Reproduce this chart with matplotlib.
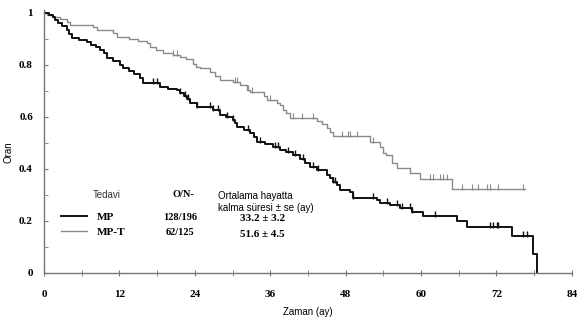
import numpy as np
import matplotlib
matplotlib.use("Agg")
import matplotlib.pyplot as plt

# Kaplan-Meier steps: (time in months, survival after drop)
mp_time = [0, 0.8, 1.5, 1.75, 2.3, 2.9, 3.66, 4.0, 4.45, 5.5, 6.84, 7.5, 8.2, 8.9, 9.5,
           10.0, 11.0, 12.1, 12.6, 13.5, 14.4, 15.3, 15.7, 18.5, 19.8, 21.2, 21.6, 22.2,
           22.7, 23.2, 24.3, 26.9, 28.0, 29.0, 30.1, 30.4, 30.7, 31.8, 32.8, 33.4, 33.9,
           35.2, 36.4, 37.5, 38.5, 39.6, 40.7, 41.5, 42.3, 43.4, 45.0, 45.5, 46.0, 46.6,
           47.1, 48.7, 49.2, 53.0, 53.5, 55.0, 56.6, 58.5, 60.3, 65.7, 67.3, 74.4, 77.8,
           78.4]
mp_surv = [1.0, 0.992, 0.985, 0.973, 0.962, 0.95, 0.935, 0.92, 0.904, 0.896, 0.888, 0.877,
           0.869, 0.858, 0.846, 0.827, 0.815, 0.8, 0.788, 0.777, 0.765, 0.75, 0.731, 0.715,
           0.708, 0.704, 0.692, 0.681, 0.669, 0.654, 0.638, 0.627, 0.608, 0.6, 0.588, 0.577,
           0.562, 0.55, 0.538, 0.521, 0.504, 0.494, 0.485, 0.473, 0.465, 0.454, 0.438, 0.423,
           0.408, 0.396, 0.377, 0.365, 0.35, 0.338, 0.319, 0.312, 0.288, 0.281, 0.269, 0.262,
           0.25, 0.235, 0.219, 0.2, 0.177, 0.142, 0.073, 0.0]
mp_censor = [17.3, 18.0, 21.6, 22.4, 22.9, 24.3, 26.4, 26.9, 27.7, 29.1, 30.1, 32.5, 34.4,
             36.7, 37.2, 38.8, 39.9, 41.2, 42.8, 43.6, 46.0, 46.3, 49.2, 52.3, 54.6, 56.2,
             57.0, 58.2, 58.5, 62.2, 71.0, 71.4, 72.1, 72.2, 76.2, 76.8]

mpt_time = [0, 0.5, 1.2, 2.5, 3.7, 4.1, 7.8, 8.4, 11.0, 11.6, 13.5, 15.0, 16.4, 16.9, 17.8,
            19.0, 20.5, 21.6, 22.6, 23.7, 24.2, 24.8, 26.4, 27.2, 28.0, 30.1, 31.2, 32.3,
            32.8, 35.0, 35.5, 37.0, 37.5, 38.0, 38.5, 39.1, 43.4, 44.2, 45.0, 45.5, 46.0,
            51.9, 53.5, 53.9, 54.5, 55.4, 56.2, 58.2, 59.8, 64.9]
mpt_surv = [1.0, 0.992, 0.985, 0.977, 0.965, 0.954, 0.946, 0.935, 0.923, 0.908, 0.9, 0.892,
            0.885, 0.869, 0.858, 0.846, 0.838, 0.831, 0.823, 0.805, 0.792, 0.788, 0.773,
            0.758, 0.742, 0.735, 0.723, 0.704, 0.696, 0.681, 0.665, 0.654, 0.646, 0.627,
            0.615, 0.596, 0.585, 0.573, 0.558, 0.542, 0.527, 0.504, 0.485, 0.462, 0.454,
            0.423, 0.404, 0.385, 0.362, 0.323]
mpt_end = 76.5
mpt_censor = [20.5, 21.2, 30.4, 30.7, 32.5, 33.1, 36.0, 39.6, 41.0, 42.8, 47.4, 48.4, 48.7,
              49.8, 52.3, 61.4, 61.9, 63.0, 63.5, 64.1, 66.5, 68.1, 69.0, 70.5, 71.0, 72.2,
              76.2]

groups = ["MP", "MP-T"]
events = ["128/196", "62/125"]
medians = ["33.2 \u00b1 3.2", "51.6 \u00b1 4.5"]

xticks = [0, 12, 24, 36, 48, 60, 72, 84]
yticks = [0, 0.2, 0.4, 0.6, 0.8, 1]
ylabels = ["0", "0.2", "0.4", "0.6", "0.8", "1"]

black = "#111111"
grey = "#8a8a8a"
serif = "Liberation Serif"
sans = "Liberation Sans"


def surv_at(times, surv, t):
    i = np.searchsorted(times, t, side="right") - 1
    return surv[i]


fig = plt.figure(figsize=(5.82, 3.23), dpi=100)
ax = fig.add_axes([0.0756, 0.155, 0.907, 0.813])

# MP-T (grey)
tt = list(mpt_time) + [mpt_end]
ss = list(mpt_surv) + [mpt_surv[-1]]
ax.step(tt, ss, where="post", color=grey, lw=1.0)
cy = [surv_at(mpt_time, mpt_surv, t) for t in mpt_censor]
ax.plot(mpt_censor, np.array(cy) + 0.008, ls="none", marker="|", ms=4, mew=0.8, color=grey)

# MP (black)
ax.step(mp_time, mp_surv, where="post", color=black, lw=1.4)
cy = [surv_at(mp_time, mp_surv, t) for t in mp_censor]
ax.plot(mp_censor, np.array(cy) + 0.008, ls="none", marker="|", ms=4, mew=1.0, color=black)

ax.set_xlim(0, 84)
ax.set_ylim(0, 1.01)
for s in ["top", "right"]:
    ax.spines[s].set_visible(False)
for s in ["left", "bottom"]:
    ax.spines[s].set_color("#777777")
    ax.spines[s].set_linewidth(1.0)

ax.set_xticks(xticks)
ax.set_xticks(np.arange(6, 84, 12), minor=True)
ax.set_yticks(yticks)
ax.set_yticks(np.arange(0.1, 1.0, 0.2), minor=True)
ax.set_xticklabels([str(x) for x in xticks], fontfamily=serif, fontweight="bold", fontsize=8)
ax.set_yticklabels(ylabels, fontfamily=serif, fontweight="bold", fontsize=8)
ax.tick_params(axis="x", which="both", direction="inout", length=4, color="#777777", pad=10)
ax.tick_params(axis="y", which="both", direction="in", length=3, color="#777777", pad=8)

ax.set_xlabel("Zaman (ay)", fontfamily=sans, fontsize=7, labelpad=6)
ax.set_ylabel("Oran", fontfamily=sans, fontsize=7, labelpad=3)
ax.yaxis.set_label_coords(-0.058, 0.46)

# legend table
ax.text(7.8, 0.30, "Tedavi", fontfamily=sans, fontsize=7, color="#333333", va="center")
ax.text(20.4, 0.30, "O/N-", fontfamily=serif, fontweight="bold", fontsize=7.5, va="center")
ax.text(27.7, 0.273, "Ortalama hayatta\nkalma s\u00fcresi \u00b1 se (ay)", fontfamily=sans,
        fontsize=7, va="center", linespacing=1.15)
rows_y = [0.215, 0.155]
med_y = [0.208, 0.146]
for i, g in enumerate(groups):
    y = rows_y[i]
    col = black if i == 0 else grey
    ax.plot([2.7, 6.8], [y + 0.005, y + 0.005], color=col, lw=1.4 if i == 0 else 1.0)
    ax.text(8.4, y, g, fontfamily=serif, fontweight="bold", fontsize=8, va="center")
    ax.text(21.6, y, events[i], fontfamily=serif, fontweight="bold", fontsize=7.5,
            va="center", ha="center")
    ax.text(31.2, med_y[i], medians[i], fontfamily=serif, fontweight="bold", fontsize=8,
            va="center")

fig.savefig("out.png", dpi=100)
